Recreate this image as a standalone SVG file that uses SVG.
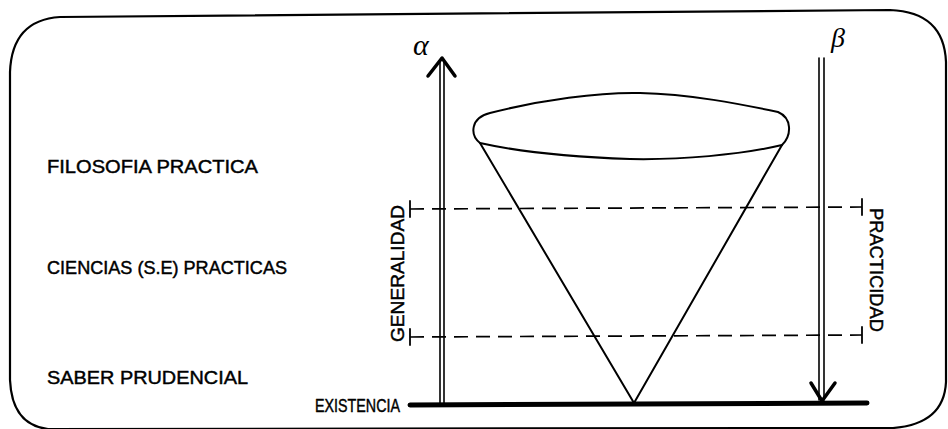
<svg xmlns="http://www.w3.org/2000/svg" width="948" height="429" viewBox="0 0 948 429">
<style>
.lbl{font-family:"Liberation Sans",Arial,sans-serif;font-size:19px;fill:#000;stroke:#000;stroke-width:0.45}
.greek{font-family:"Liberation Serif","DejaVu Serif",serif;font-style:italic;fill:#000}
.ln{stroke:#000;fill:none;stroke-linecap:round;stroke-linejoin:round}
.dash{stroke:#000;stroke-width:1.7;stroke-dasharray:14 8;fill:none}
</style>
<rect width="948" height="429" fill="#fff"/>
<g id="frame">
<path class="ln" stroke-width="2.2" d="M 10 380 L 10 72 Q 12 20 60 17 L 890 10 Q 944 12 946 62 L 946 382 Q 944 424 893 428 L 48 429 Q 12 425 10 380"/>
</g>
<g id="labels">
<text class="lbl" x="47" y="173" textLength="211" lengthAdjust="spacingAndGlyphs">FILOSOFIA PRACTICA</text>
<text class="lbl" x="47" y="274" textLength="240" lengthAdjust="spacingAndGlyphs">CIENCIAS (S.E) PRACTICAS</text>
<text class="lbl" x="47" y="384" textLength="201" lengthAdjust="spacingAndGlyphs">SABER PRUDENCIAL</text>
</g>
<g id="cone">
<path class="ln" stroke-width="2" d="M 480 143 C 470 135, 470 118, 490 113 C 540 100, 600 92, 640 93 C 690 94, 740 104, 778 112 C 792 118, 792 135, 782 145 C 740 155, 680 160, 630 159 C 570 157, 520 152, 480 143 Z"/>
<path class="ln" stroke-width="2" d="M 480 143 L 634 403 L 782 145"/>
</g>
<g id="existencia">
<line class="ln" x1="410" y1="405" x2="867" y2="403" stroke-width="5"/>
<text class="lbl" x="315" y="412" textLength="85" lengthAdjust="spacingAndGlyphs">EXISTENCIA</text>
</g>
<g id="alpha">
<line class="ln" x1="440" y1="60" x2="440" y2="403" stroke-width="1.6"/>
<line class="ln" x1="444" y1="60" x2="444" y2="403" stroke-width="1.6"/>
<polyline class="ln" points="428,76 442,58 455,76" stroke-width="3.5"/>
<text class="greek" x="413" y="55" font-size="30">α</text>
<text class="lbl" transform="translate(404,342) rotate(-90)" textLength="137" lengthAdjust="spacingAndGlyphs">GENERALIDAD</text>
</g>
<g id="beta">
<line class="ln" x1="819" y1="58" x2="819" y2="400" stroke-width="1.6"/>
<line class="ln" x1="824" y1="58" x2="824" y2="400" stroke-width="1.6"/>
<polyline class="ln" points="811,383 822,401 835,383" stroke-width="3.5"/>
<text class="greek" x="831" y="47" font-size="28">β</text>
<text class="lbl" transform="translate(870,208) rotate(90)" textLength="124" lengthAdjust="spacingAndGlyphs">PRACTICIDAD</text>
</g>
<g id="levels">
<line class="dash" x1="410" y1="209" x2="862" y2="207"/>
<line class="dash" x1="410" y1="337" x2="862" y2="335"/>
<line class="ln" x1="410" y1="201" x2="410" y2="217" stroke-width="1.8"/>
<line class="ln" x1="410" y1="329" x2="410" y2="345" stroke-width="1.8"/>
<line class="ln" x1="862" y1="199" x2="862" y2="215" stroke-width="1.8"/>
<line class="ln" x1="862" y1="327" x2="862" y2="343" stroke-width="1.8"/>
</g>
</svg>
